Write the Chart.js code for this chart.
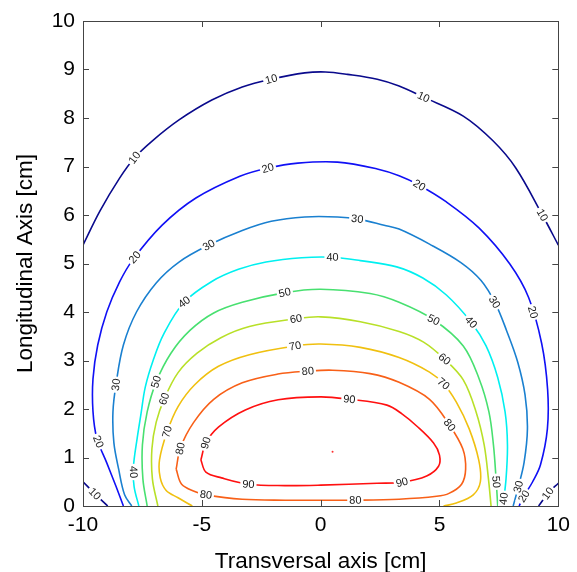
<!DOCTYPE html>
<html><head><meta charset="utf-8">
<script src="https://cdn.jsdelivr.net/npm/chart.js@4/dist/chart.umd.min.js"></script>
<style>html,body{margin:0;padding:0;background:#fff;overflow:hidden}canvas{display:block}</style>
</head><body>
<canvas id="c" width="577" height="572"></canvas>
<script>
// ---- data ----
const xTicks = [-10, -5, 0, 5, 10];
const yTicks = [0, 1, 2, 3, 4, 5, 6, 7, 8, 9, 10];
const levels = [10, 20, 30, 40, 50, 60, 70, 80, 90];

const c10 = [[-10,5.38],[-9.29,6.08],[-8.46,6.76],[-7.83,7.18],[-7.08,7.53],[-5.96,7.96],[-4.58,8.37],[-3.3,8.64],[-2.08,8.8],[-0.67,8.93],[0.2,8.95],[1.13,8.9],[2.38,8.8],[3.3,8.66],[4.33,8.43],[6.0,8.04],[7.25,7.53],[8.21,6.97],[9.33,6.0],[10,5.38]];
const c10L = [[-10,0.5],[-9.5,0.25],[-8.96,0]];
const c10R = [[10,0.47],[9.58,0.27],[9.17,0]];
const c20 = [[-8.3,0],[-8.6,0.39],[-9.0,0.89],[-9.42,1.4],[-9.58,1.95],[-9.58,2.62],[-9.38,3.32],[-9.0,4.0],[-8.46,4.62],[-7.9,5.08],[-6.67,5.79],[-5.25,6.35],[-3.4,6.8],[-2.21,6.97],[-0.96,7.07],[0.71,7.09],[2.38,6.95],[3.3,6.81],[4.13,6.62],[5.29,6.27],[6.67,5.73],[7.96,4.99],[8.75,4.3],[9.3,3.35],[9.55,2.4],[9.54,1.59],[9.25,0.85],[8.92,0.5],[8.55,0.2],[8.35,0]];
const c30 = [[-7.95,0],[-8.25,0.23],[-8.5,0.76],[-8.7,1.3],[-8.74,1.94],[-8.6,2.55],[-8.3,3.32],[-7.75,4.0],[-6.92,4.6],[-5.96,5.03],[-4.71,5.38],[-3.3,5.68],[-2.08,5.87],[-0.67,5.96],[0.71,5.96],[1.54,5.92],[2.67,5.79],[3.3,5.71],[4.58,5.4],[5.9,5.02],[6.75,4.65],[7.35,4.18],[7.82,3.62],[8.29,2.97],[8.6,2.29],[8.7,1.59],[8.56,0.9],[8.32,0.4],[8.1,0]];
const c40 = [[-7.65,0],[-7.85,0.4],[-7.88,0.8],[-7.72,1.4],[-7.56,1.9],[-7.38,2.45],[-7.05,3.0],[-6.6,3.55],[-5.75,4.2],[-4.58,4.63],[-3.46,4.88],[-2.3,5.03],[-0.8,5.12],[0.5,5.13],[1.67,5.06],[3.2,4.93],[4.3,4.7],[5.29,4.35],[6.33,3.79],[6.96,3.3],[7.45,2.65],[7.76,1.94],[7.86,1.26],[7.8,0.56],[7.67,0]];
const c50 = [[-7.3,0],[-7.48,0.56],[-7.5,1.26],[-7.3,1.94],[-6.92,2.56],[-6.3,3.15],[-5.5,3.62],[-4.5,3.98],[-3.3,4.2],[-1.5,4.4],[0,4.47],[2.08,4.38],[3.3,4.2],[4.75,3.84],[6.0,3.3],[6.67,2.62],[7.08,1.94],[7.27,1.26],[7.38,0.56],[7.45,0]];
const c60 = [[-6.85,0],[-7.08,0.56],[-7.1,1.18],[-6.92,1.73],[-6.58,2.21],[-6.0,2.75],[-5.2,3.15],[-4.2,3.47],[-3.0,3.7],[-1.04,3.86],[0,3.9],[1.67,3.8],[3.3,3.6],[4.33,3.38],[5.21,3.03],[6.0,2.6],[6.54,1.94],[6.88,1.26],[7.06,0.56],[7.17,0]];
const c70 = [[-5.4,0],[-6.0,0.17],[-6.5,0.32],[-6.75,0.58],[-6.78,0.95],[-6.46,1.53],[-6.0,2.05],[-5.3,2.5],[-4.3,2.88],[-3.0,3.12],[-1.08,3.3],[0,3.34],[1.67,3.27],[3.3,3.06],[4.58,2.76],[5.17,2.52],[5.71,2.14],[6.25,1.59],[6.65,0.95],[6.72,0.5],[6.42,0.23],[5.71,0.06],[5.17,0]];
const c80 = [[-6.08,0.76],[-5.9,1.2],[-5.35,1.72],[-4.5,2.2],[-3.3,2.54],[-1.8,2.72],[-0.54,2.78],[0.5,2.8],[2.08,2.73],[3.3,2.55],[4.58,2.2],[5.42,1.67],[5.98,1.18],[6.1,0.76],[5.93,0.45],[5.4,0.26],[4.88,0.2],[3.3,0.14],[1.46,0.12],[0,0.12],[-1.5,0.12],[-3.3,0.14],[-4.83,0.23],[-5.3,0.3],[-5.85,0.45],[-6.08,0.76]];
const c90 = [[-5.04,0.95],[-4.83,1.3],[-4.29,1.63],[-3.17,1.98],[-1.79,2.19],[0,2.25],[1.21,2.2],[2.79,2.08],[3.42,1.9],[4.04,1.65],[4.75,1.3],[5.0,1.05],[4.96,0.82],[4.46,0.62],[3.42,0.49],[2.38,0.47],[0,0.43],[-1.5,0.42],[-3.04,0.45],[-4.17,0.58],[-4.83,0.7],[-5.04,0.95]];
const peakDot = [[0.5,1.12]];

const contourPieces = [[10,c10],[10,c10L],[10,c10R],[20,c20],[30,c30],[40,c40],[50,c50],[60,c60],[70,c70],[80,c80],[90,c90]];

// contour label anchors: [level, x, y]
const labelPts = [
 [10,-7.83,7.18],[10,-2.08,8.8],[10,4.33,8.43],[10,9.33,6.0],[10,-9.5,0.25],[10,9.56,0.26],
 [20,-7.8,5.12],[20,-2.21,6.95],[20,4.13,6.6],[20,8.95,4.0],[20,-9.5,1.3],[20,8.55,0.2],
 [30,-4.71,5.38],[30,1.54,5.92],[30,7.3,4.2],[30,-8.6,2.5],[30,8.3,0.4],
 [40,-5.75,4.21],[40,0.5,5.13],[40,6.33,3.79],[40,-7.9,0.7],[40,7.72,0.15],
 [50,-1.5,4.38],[50,4.75,3.84],[50,-6.92,2.56],[50,7.4,0.5],
 [60,-1.04,3.85],[60,5.21,3.03],[60,-6.58,2.21],
 [70,-1.08,3.3],[70,5.17,2.52],[70,-6.46,1.53],
 [80,-0.54,2.78],[80,5.42,1.67],[80,-5.88,1.18],[80,-4.83,0.23],[80,1.46,0.12],
 [90,1.21,2.2],[90,-4.83,1.3],[90,-3.04,0.45],[90,3.42,0.49]
];

// ---- styles ----
const levelColors = {10:'#0a0a8c',20:'#1010f5',30:'#1a80d0',40:'#00f0f0',50:'#48e070',60:'#b8e028',70:'#f0c010',80:'#f86018',90:'#ff1010'};
const FONT = "'Liberation Sans', Arial, Helvetica, sans-serif";

const datasets = contourPieces.map(([lv, pts]) => ({
  label: String(lv), level: lv,
  data: pts.map(p => ({x: p[0], y: p[1]})),
  showLine: true, borderColor: levelColors[lv], borderWidth: 1.6,
  pointRadius: 0, pointHoverRadius: 0, tension: 0.35, fill: false
}));
datasets.push({label:'peak', level: 100, data: peakDot.map(p => ({x:p[0], y:p[1]})), showLine:false, pointRadius:1, backgroundColor:'#ff3030', borderWidth:0});

const framePlugin = {
  id: 'frame',
  afterDraw(chart) {
    const {ctx, chartArea: a, scales: {x, y}} = chart;
    ctx.save();
    ctx.strokeStyle = '#444'; ctx.lineWidth = 1;
    ctx.strokeRect(Math.round(a.left)+0.5, Math.round(a.top)+0.5, Math.round(a.right-a.left), Math.round(a.bottom-a.top));
    const tl = 6;
    ctx.beginPath();
    xTicks.forEach(v => {
      const px = Math.round(x.getPixelForValue(v)) + 0.5;
      ctx.moveTo(px, a.bottom); ctx.lineTo(px, a.bottom - tl);
      ctx.moveTo(px, a.top); ctx.lineTo(px, a.top + tl);
    });
    yTicks.forEach(v => {
      const py = Math.round(y.getPixelForValue(v)) + 0.5;
      ctx.moveTo(a.left, py); ctx.lineTo(a.left + tl, py);
      ctx.moveTo(a.right, py); ctx.lineTo(a.right - tl, py);
    });
    ctx.stroke();
    ctx.restore();
  }
};

const labelPlugin = {
  id: 'clabels',
  afterDatasetsDraw(chart) {
    const {ctx, scales: {x, y}} = chart;
    ctx.save();
    ctx.font = '11px ' + FONT;
    ctx.textAlign = 'center'; ctx.textBaseline = 'middle';
    labelPts.forEach(([lv, lx, ly]) => {
      const px = x.getPixelForValue(lx), py = y.getPixelForValue(ly);
      let best = null;
      chart.data.datasets.forEach(ds => {
        if (ds.level !== lv) return;
        const pts = ds.data.map(p => [x.getPixelForValue(p.x), y.getPixelForValue(p.y)]);
        for (let i = 0; i < pts.length - 1; i++) {
          const [x1,y1] = pts[i], [x2,y2] = pts[i+1];
          const dx = x2-x1, dy = y2-y1, L2 = dx*dx+dy*dy || 1;
          let t = ((px-x1)*dx + (py-y1)*dy) / L2; t = Math.max(0, Math.min(1, t));
          const qx = x1+t*dx, qy = y1+t*dy, d = (qx-px)**2 + (qy-py)**2;
          if (!best || d < best.d) best = {d, qx, qy, ang: Math.atan2(dy, dx)};
        }
      });
      if (!best) return;
      let ang = best.ang;
      if (ang > Math.PI/2) ang -= Math.PI;
      if (ang < -Math.PI/2) ang += Math.PI;
      const txt = String(lv);
      const w = ctx.measureText(txt).width;
      ctx.save();
      ctx.translate(best.qx, best.qy);
      ctx.rotate(ang);
      ctx.fillStyle = '#fff';
      ctx.fillRect(-w/2 - 2, -5, w + 4, 10);
      ctx.fillStyle = '#1a1a1a';
      ctx.fillText(txt, 0, 0.5);
      ctx.restore();
    });
    ctx.restore();
  }
};

new Chart(document.getElementById('c'), {
  type: 'scatter',
  data: { datasets },
  options: {
    responsive: false, animation: false, devicePixelRatio: 1,
    layout: { padding: { top: 21, right: 14, left: 0, bottom: 0 } },
    plugins: { legend: { display: false }, tooltip: { enabled: false } },
    events: [],
    scales: {
      x: {
        type: 'linear', min: -10, max: 10,
        afterBuildTicks: s => { s.ticks = xTicks.map(v => ({value: v})); },
        grid: { display: false, drawTicks: false }, border: { display: false },
        ticks: { font: { family: FONT, size: 21 }, color: '#000', padding: 7, maxRotation: 0, autoSkip: false },
        title: { display: true, text: 'Transversal axis [cm]', font: { family: FONT, size: 22.5 }, color: '#000', padding: { top: 0, bottom: -3 } },
        afterFit: s => { s.height = 66; }
      },
      y: {
        type: 'linear', min: 0, max: 10,
        afterBuildTicks: s => { s.ticks = yTicks.map(v => ({value: v})); },
        grid: { display: false, drawTicks: false }, border: { display: false },
        ticks: { font: { family: FONT, size: 21 }, color: '#000', padding: 8, autoSkip: false },
        title: { display: true, text: 'Longitudinal Axis [cm]', font: { family: FONT, size: 22.5 }, color: '#000', padding: { top: 12, bottom: 0 } },
        afterFit: s => { s.width = 83; }
      }
    }
  },
  plugins: [framePlugin, labelPlugin]
});
</script>
</body></html>
